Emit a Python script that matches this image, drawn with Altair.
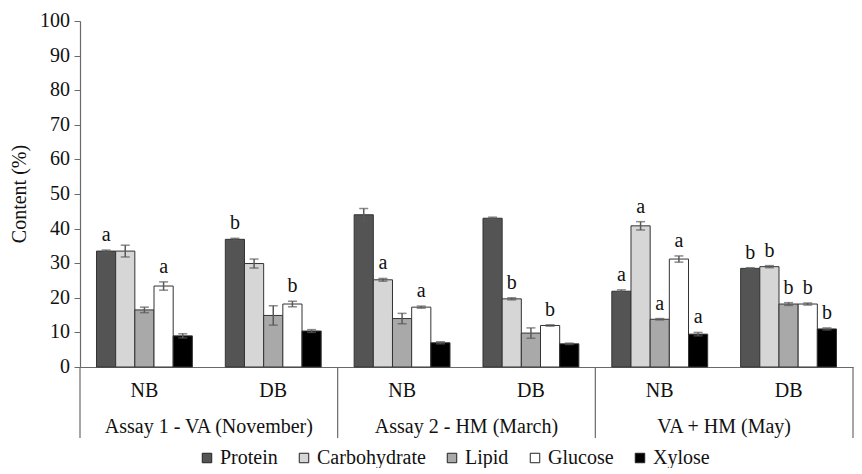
import altair as alt
import pandas as pd

groups = ["Assay 1 - VA (November)", "Assay 2 - HM (March)", "VA + HM (May)"]
conditions = ["NB", "DB"]
series = ["Protein", "Carbohydrate", "Lipid", "Glucose", "Xylose"]
colors = ["#545454", "#d6d6d6", "#a9a9a9", "#ffffff", "#000000"]
y_ticks = [0, 10, 20, 30, 40, 50, 60, 70, 80, 90, 100]
y_title = "Content (%)"

# order: A1-NB, A1-DB, A2-NB, A2-DB, A3-NB, A3-DB
protein = [33.5, 36.9, 44.0, 43.0, 21.9, 28.5]
protein_err = [0.3, 0.3, 1.8, 0.3, 0.4, 0.2]
carbohydrate = [33.5, 29.9, 25.2, 19.7, 40.8, 29.0]
carbohydrate_err = [1.7, 1.3, 0.4, 0.3, 1.2, 0.3]
lipid = [16.5, 14.9, 14.0, 9.8, 13.8, 18.2]
lipid_err = [0.8, 2.8, 1.5, 1.5, 0.2, 0.4]
glucose = [23.4, 18.2, 17.3, 12.0, 31.2, 18.2]
glucose_err = [1.2, 0.8, 0.3, 0.2, 0.9, 0.3]
xylose = [9.0, 10.4, 7.0, 6.7, 9.5, 11.0]
xylose_err = [0.6, 0.4, 0.3, 0.2, 0.5, 0.3]

protein_lbl = ["a", "b", "", "", "a", "b"]
carbohydrate_lbl = ["", "", "a", "b", "a", "b"]
lipid_lbl = ["", "", "", "", "a", "b"]
glucose_lbl = ["a", "b", "a", "b", "a", "b"]
xylose_lbl = ["", "", "", "", "a", "b"]

vals = [protein, carbohydrate, lipid, glucose, xylose]
errs = [protein_err, carbohydrate_err, lipid_err, glucose_err, xylose_err]
lbls = [protein_lbl, carbohydrate_lbl, lipid_lbl, glucose_lbl, xylose_lbl]

keys = []
cats = []
for g in groups:
    for c in conditions:
        keys.append(g + "|" + c)
        cats.append((g, c))

rows = []
for si, s in enumerate(series):
    for ki, k in enumerate(keys):
        v = vals[si][ki]
        e = errs[si][ki]
        rows.append(dict(key=k, series=s, value=v, lo=v - e, hi=v + e, lbl=lbls[si][ki]))
df = pd.DataFrame(rows)

cat_df = pd.DataFrame([dict(key=k, cond=c, group=g) for k, (g, c) in zip(keys, cats)])
nb_df = cat_df[cat_df.cond == "NB"]
db_df = cat_df[cat_df.cond == "DB"]
last_df = cat_df.iloc[[-1]]
tick_df = pd.DataFrame({"v": y_ticks, "t": [str(v) for v in y_ticks]})
title_df = pd.DataFrame({"t": [y_title]})

W, H = 773, 346
FONT = "Liberation Serif"
GREY = "#6a6a6a"

xaxis = alt.Axis(labels=False, ticks=False, title=None, domain=True,
                 domainColor=GREY, domainWidth=1.2)
yaxis = alt.Axis(values=y_ticks, title=None, grid=False, labels=False,
                 tickSize=6, domainColor=GREY, tickColor=GREY, domainWidth=1.2)
xs = alt.Scale(domain=keys, paddingInner=0, paddingOuter=0)
xoff = alt.XOffset("series:N", sort=series,
                   scale=alt.Scale(domain=series, paddingInner=0, paddingOuter=0.86))
ys = alt.Scale(domain=[0, 100])


def xq(**kw):
    return alt.X("key:N", scale=xs, sort=keys, axis=xaxis, **kw)


def yq(f):
    return alt.Y(f, scale=ys, axis=yaxis)


bars = alt.Chart(df).mark_bar(stroke="#333333", strokeWidth=1).encode(
    x=xq(), xOffset=xoff, y=yq("value:Q"),
    color=alt.Color("series:N", sort=series,
                    scale=alt.Scale(domain=series, range=colors),
                    legend=alt.Legend(title=None, orient="none", legendX=117, legendY=427,
                                      direction="horizontal", columns=5,
                                      labelFont=FONT, labelFontSize=20,
                                      labelColor="#111111", symbolType="square",
                                      symbolSize=90, symbolStrokeColor="#222222",
                                      symbolStrokeWidth=1, columnPadding=16,
                                      labelOffset=3, padding=0)),
)

err_rule = alt.Chart(df).mark_rule(color="#5a5a5a", strokeWidth=1.5).encode(
    x=xq(), xOffset=xoff, y=yq("lo:Q"), y2="hi:Q")
cap_hi = alt.Chart(df).mark_tick(color="#5a5a5a", size=9, thickness=1.5).encode(
    x=xq(), xOffset=xoff, y=yq("hi:Q"))
cap_lo = alt.Chart(df).mark_tick(color="#5a5a5a", size=9, thickness=1.5).encode(
    x=xq(), xOffset=xoff, y=yq("lo:Q"))

letters = alt.Chart(df).mark_text(font=FONT, fontSize=20, dy=-9, baseline="alphabetic",
                                  color="#111111").encode(
    x=xq(), xOffset=xoff, y=yq("hi:Q"), text="lbl:N")

sep_left = alt.Chart(nb_df).mark_rule(color=GREY, strokeWidth=1.2).encode(
    x=xq(bandPosition=0), y=alt.value(H), y2=alt.value(H + 71))
sep_right = alt.Chart(last_df).mark_rule(color=GREY, strokeWidth=1.2).encode(
    x=xq(bandPosition=1), y=alt.value(H), y2=alt.value(H + 71))

cond_text = alt.Chart(cat_df).mark_text(font=FONT, fontSize=20, color="#111111",
                                         baseline="middle").encode(
    x=xq(bandPosition=0.5), y=alt.value(H + 24), text="cond:N")
group_text = alt.Chart(db_df).mark_text(font=FONT, fontSize=20, color="#111111",
                                         baseline="middle").encode(
    x=xq(bandPosition=0), y=alt.value(H + 60), text="group:N")

tick_text = alt.Chart(tick_df).mark_text(font=FONT, fontSize=20, color="#111111",
                                          align="right", baseline="middle").encode(
    x=alt.value(-10), y=yq("v:Q"), text="t:N")
title_text = alt.Chart(title_df).mark_text(font=FONT, fontSize=20, color="#111111",
                                            align="center", baseline="middle",
                                            angle=270).encode(
    x=alt.value(-60), y=alt.value(H / 2), text="t:N")

chart = alt.layer(bars, err_rule, cap_hi, cap_lo, letters, sep_left, sep_right,
                  cond_text, group_text, tick_text, title_text).properties(
    width=W, height=H, background="white",
    padding={"left": 2, "top": 3, "right": 0, "bottom": 0},
).configure(font=FONT).configure_view(stroke=None)

chart.save("out.html", embed_options={"renderer": "svg", "actions": False})
